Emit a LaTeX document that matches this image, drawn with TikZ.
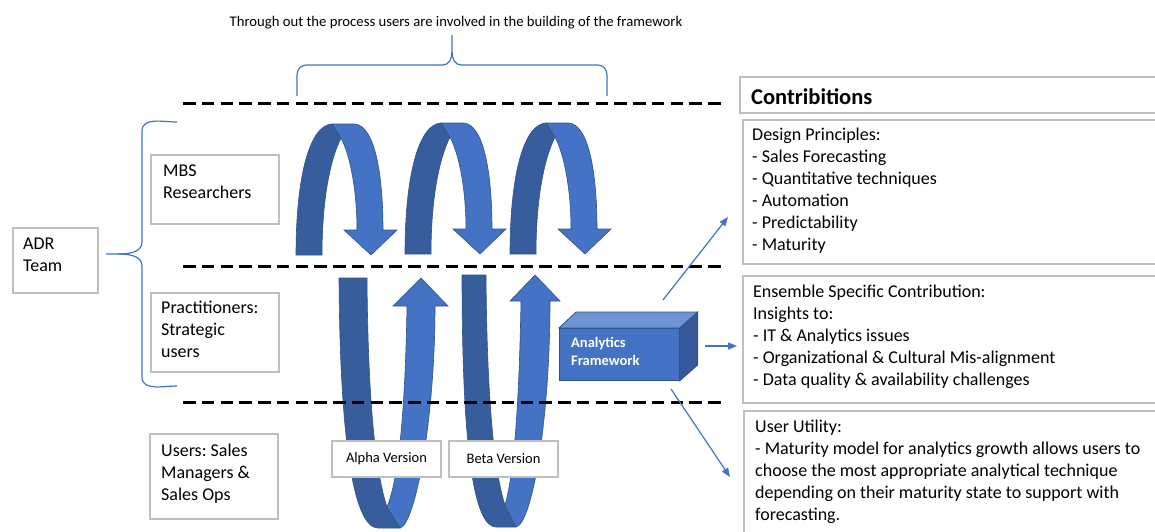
\documentclass[tikz,border=0pt]{standalone}
\usepackage{fontspec}
\setmainfont{Carlito}
\usetikzlibrary{arrows.meta}
\frenchspacing
\definecolor{lblue}{HTML}{4472C4}
\definecolor{dblue}{HTML}{385D9C}
\definecolor{oblue}{HTML}{2F528F}
\definecolor{topblue}{HTML}{7094D3}
\definecolor{sideblue}{HTML}{34589A}
\definecolor{boxgray}{HTML}{BFBFBF}
\newcommand\fsA{\fontsize{18}{22}\selectfont}
\newcommand\fsC{\fontsize{14.7}{17}\selectfont}
\newcommand\fsV{\fontsize{14.5}{17}\selectfont}
\newcommand\fsB{\fontsize{14.5}{18}\selectfont\bfseries}
\newcommand\fsH{\fontsize{22.5}{26}\selectfont\bfseries}
\tikzset{
  gbox/.style={draw=boxgray, line width=1.5pt, fill=white, inner sep=0pt},
  txt/.style={anchor=north west, inner sep=0pt, align=left, font=\fsA},
  darkpart/.style={fill=dblue, draw=oblue, line width=0.6pt},
  lightpart/.style={fill=lblue, draw=oblue, line width=0.6pt},
  bracepath/.style={draw=lblue, line width=1.2pt},
  sepline/.style={draw=black, line width=3pt, dash pattern=on 12.5pt off 6.25pt},
  conn/.style={draw=lblue, line width=1.2pt, -{Triangle[length=9pt,width=7pt]}},
  toparrow/.pic={
    \path[darkpart] (296,255) .. controls (296,175) and (310,125) .. (332,124)
      -- (341,138) .. controls (330,160) and (322,200) .. (322,255) -- cycle;
    \path[lightpart] (332,124) -- (355,124) .. controls (375,126) and (383,175) .. (383,230)
      -- (397,230) -- (371,255) -- (344,230) -- (357,230)
      .. controls (357,190) and (350,155) .. (341,138) -- cycle;
  }
}
\begin{document}
\begin{tikzpicture}[x=1pt,y=-1pt]
\clip (0,0) rectangle (1155,531);
\fill[white] (0,0) rectangle (1155,531);

% top curved arrows
\pic at (0,0) {toparrow};
\pic at (109,-1) {toparrow};
\pic at (214,-1) {toparrow};

% bottom U-turn arrows (Alpha)
\path[darkpart] (339,278) -- (367,278) .. controls (368,420) and (378,480) .. (387,507)
  -- (400,528) -- (378,528) .. controls (355,528) and (340,450) .. (339,278) -- cycle;
\path[lightpart] (387,507) -- (400,528) .. controls (415,525) and (435,420) .. (435,306)
  -- (448,306) -- (421,278) -- (393,306) -- (407,306)
  .. controls (405,420) and (398,480) .. (387,507) -- cycle;
% Beta
\path[darkpart] (462,275) -- (486,275) .. controls (487,415) and (496,478) .. (505,505)
  -- (516,527) -- (496,527) .. controls (474,527) and (462,450) .. (462,275) -- cycle;
\path[lightpart] (505,505) -- (516,527) .. controls (532,524) and (550,420) .. (550,301)
  -- (560,301) -- (535,275) -- (510,301) -- (521,301)
  .. controls (519,415) and (513,478) .. (505,505) -- cycle;

% dashed separators
\draw[sepline] (183,103) -- (722,103);
\draw[sepline] (183,266) -- (722,266);
\draw[sepline] (183,402) -- (722,402);

% braces
\path[bracepath] (297,96) -- (297,75) to[out=90,in=180] (306,65) -- (443,65)
  to[out=0,in=270] (452,52) -- (452,35);
\path[bracepath] (452,52) to[out=270,in=180] (461,65) -- (598,65)
  to[out=0,in=90] (607,75) -- (607,96);
\path[bracepath] (177,122) to[out=180,in=90] (142,131) -- (142,242)
  to[out=270,in=0] (118,254) -- (106,254);
\path[bracepath] (118,254) to[out=0,in=90] (142,266) -- (142,377)
  to[out=270,in=180] (177,386);

\node[font=\fsC, anchor=base, inner sep=0pt] (toptext) at (456,26)
  {Through out the process users are involved in the building of the framework};

% left boxes
\node[gbox, anchor=north west, minimum width=85pt, minimum height=65pt] (adrbox) at (12,227) {};
\node[txt] (adrt) at (23,233.6) {\strut ADR\\Team};
\node[gbox, anchor=north west, minimum width=128pt, minimum height=69pt] (mbsbox) at (150,154) {};
\node[txt] (mbst) at (163,160.6) {\strut MBS\\Researchers};
\node[gbox, anchor=north west, minimum width=128pt, minimum height=79pt] (pracbox) at (150,292) {};
\node[txt] (pract) at (161,297.6) {\strut Practitioners:\\Strategic\\users};
\node[gbox, anchor=north west, minimum width=128pt, minimum height=85pt] (userbox) at (149,433) {};
\node[txt] (usert) at (161,440.6) {\strut Users: Sales\\Managers \&\\Sales Ops};

% version labels
\node[gbox, minimum width=109pt, minimum height=36pt, font=\fsV] (alpha) at (386.5,459) {Alpha Version};
\node[gbox, minimum width=109pt, minimum height=36pt, font=\fsV] (beta) at (503.5,459) {Beta Version};

% analytics framework cube
\node[fill=lblue, draw=oblue, line width=0.8pt, anchor=north west, minimum width=120pt,
  minimum height=52pt, inner sep=0pt] (af) at (559,328) {};
\path[fill=topblue, draw=oblue, line width=0.8pt] (af.north west) -- ++(17,-16)
  -- ([shift={(18,-16)}]af.north east) -- (af.north east) -- cycle;
\path[fill=sideblue, draw=oblue, line width=0.8pt] (af.north east) -- ++(18,-16)
  -- ([shift={(18,-16)}]af.south east) -- (af.south east) -- cycle;
\node[txt, font=\fsB, text=white] (aft) at (571,334.4) {\strut Analytics\\Framework};

% connectors
\coordinate (c1s) at (663,300); \coordinate (c1e) at (728,217);
\coordinate (c2s) at (705,346); \coordinate (c2e) at (737,346);
\coordinate (c3s) at (671,389); \coordinate (c3e) at (730,477);
\draw[conn] (c1s) -- (c1e);
\draw[conn] (c2s) -- (c2e);
\draw[conn] (c3s) -- (c3e);

% right boxes
\node[gbox, anchor=north west, minimum width=425pt, minimum height=36pt] (contrib) at (739,76) {};
\node[font=\fsH, anchor=base west, inner sep=0pt] (contribt) at (751,104) {Contribitions};
\node[gbox, anchor=north west, minimum width=425pt, minimum height=144pt] (design) at (742,119) {};
\node[txt] (designt) at (752,124.6) {\strut Design Principles:\\- Sales Forecasting\\- Quantitative techniques\\- Automation\\- Predictability\\- Maturity};
\node[gbox, anchor=north west, minimum width=425pt, minimum height=127pt] (ens) at (742,275) {};
\node[txt] (enst) at (753,281.6) {\strut Ensemble Specific Contribution:\\Insights to:\\- IT \& Analytics issues\\- Organizational \& Cultural Mis-alignment\\- Data quality \& availability challenges};
\node[gbox, anchor=north west, minimum width=425pt, minimum height=135pt] (util) at (743,410) {};
\node[txt] (utilt) at (755,416.6) {\strut User Utility:\\- Maturity model for analytics growth allows users to\\choose the most appropriate analytical technique\\depending on their maturity state to support with\\forecasting.};
\end{tikzpicture}
\end{document}
